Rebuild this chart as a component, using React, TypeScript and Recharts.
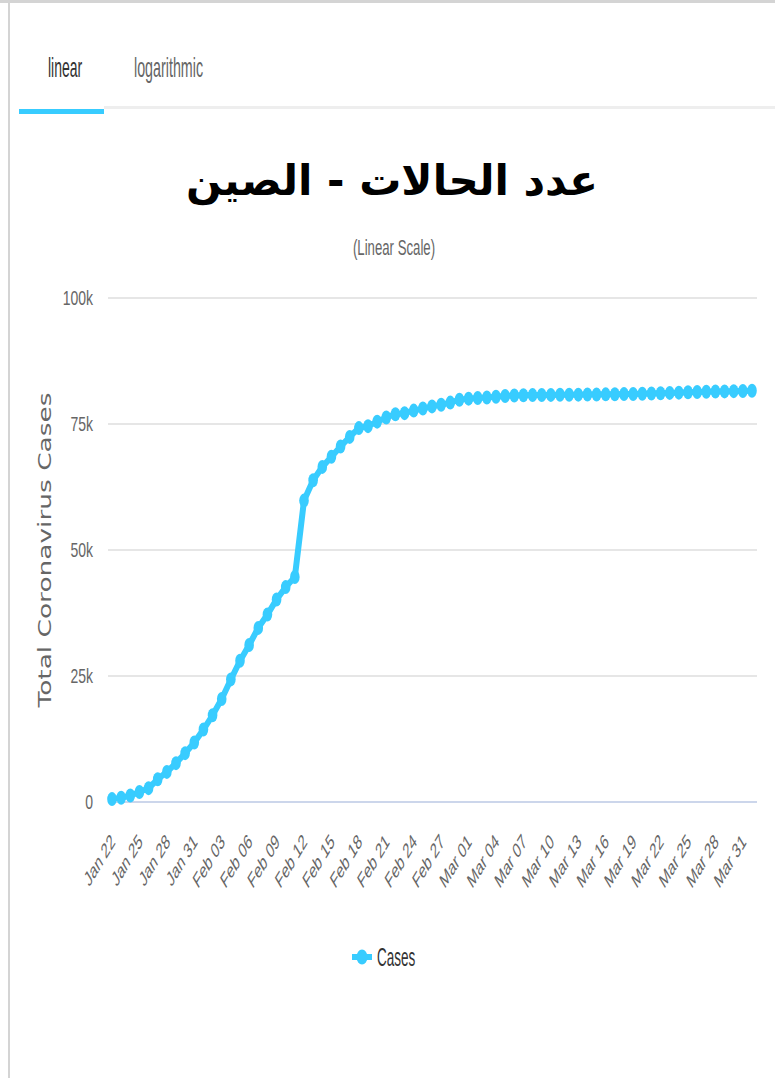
import React from "react";
import { LineChart, Line, XAxis, YAxis, CartesianGrid, Legend } from "recharts";

// daily dates, Jan 22 -> Apr 01
const dates = [
  "Jan 22", "Jan 23", "Jan 24", "Jan 25", "Jan 26", "Jan 27", "Jan 28", "Jan 29", "Jan 30", "Jan 31",
  "Feb 01", "Feb 02", "Feb 03", "Feb 04", "Feb 05", "Feb 06", "Feb 07", "Feb 08", "Feb 09", "Feb 10",
  "Feb 11", "Feb 12", "Feb 13", "Feb 14", "Feb 15", "Feb 16", "Feb 17", "Feb 18", "Feb 19", "Feb 20",
  "Feb 21", "Feb 22", "Feb 23", "Feb 24", "Feb 25", "Feb 26", "Feb 27", "Feb 28", "Feb 29", "Mar 01",
  "Mar 02", "Mar 03", "Mar 04", "Mar 05", "Mar 06", "Mar 07", "Mar 08", "Mar 09", "Mar 10", "Mar 11",
  "Mar 12", "Mar 13", "Mar 14", "Mar 15", "Mar 16", "Mar 17", "Mar 18", "Mar 19", "Mar 20", "Mar 21",
  "Mar 22", "Mar 23", "Mar 24", "Mar 25", "Mar 26", "Mar 27", "Mar 28", "Mar 29", "Mar 30", "Mar 31",
  "Apr 01",
];

const cases = [
  571, 830, 1287, 1975, 2744, 4515, 5974, 7711, 9692, 11791,
  14380, 17205, 20438, 24324, 28018, 31161, 34546, 37198, 40171, 42638,
  44653, 59804, 63851, 66492, 68500, 70548, 72436, 74185, 74576, 75465,
  76288, 76936, 77150, 77658, 78064, 78497, 78824, 79251, 79824, 80026,
  80151, 80270, 80409, 80552, 80651, 80695, 80735, 80754, 80778, 80793,
  80813, 80824, 80844, 80860, 80881, 80894, 80928, 80967, 81008, 81054,
  81093, 81171, 81218, 81285, 81340, 81394, 81439, 81470, 81518, 81554,
  81589,
];

const tickLabels = [
  "Jan 22", "Jan 25", "Jan 28", "Jan 31", "Feb 03", "Feb 06", "Feb 09", "Feb 12",
  "Feb 15", "Feb 18", "Feb 21", "Feb 24", "Feb 27", "Mar 01", "Mar 04", "Mar 07",
  "Mar 10", "Mar 13", "Mar 16", "Mar 19", "Mar 22", "Mar 25", "Mar 28", "Mar 31",
];

const yTicks = [0, 25000, 50000, 75000, 100000];

const chartData = dates.map((d, i) => ({ date: d, Cases: cases[i] }));

const BLUE = "#38ccff";
const FONT = "'Liberation Sans', Arial, sans-serif";

const XTick = ({ x, y, payload }: any) => (
  <g transform={`translate(${x + 4},${y + 41}) scale(0.6,1)`}>
    <text transform="rotate(-45)" textAnchor="end" fontSize={21} fontFamily={FONT} fill="#666">
      {payload.value}
    </text>
  </g>
);

const YTick = ({ x, y, payload }: any) => (
  <g transform={`translate(${x},${y}) scale(0.7,1)`}>
    <text textAnchor="end" dy="0.36em" fontSize={20} fontFamily={FONT} fill="#666">
      {payload.value === 0 ? "0" : `${payload.value / 1000}k`}
    </text>
  </g>
);

const YLabel = ({ viewBox }: any) => {
  const cy = viewBox.y + viewBox.height / 2;
  return (
    <text
      transform={`translate(44,${cy}) rotate(-90)`}
      textAnchor="middle"
      dominantBaseline="central"
      fontSize={18}
      fontFamily="'DejaVu Sans', sans-serif"
      fill="#666"
      textLength={315}
      lengthAdjust="spacingAndGlyphs"
    >
      Total Coronavirus Cases
    </text>
  );
};

const Dot = ({ cx, cy, index }: any) =>
  cx == null ? null : <ellipse key={index} cx={cx} cy={cy} rx={4.8} ry={7} fill={BLUE} />;

const LegendContent = () => (
  <div style={{ display: "flex", alignItems: "center", justifyContent: "center", width: 775, height: 26 }}>
    <svg width={20} height={16} style={{ marginLeft: -6 }}>
      <line x1={0} y1={8} x2={20} y2={8} stroke={BLUE} strokeWidth={6} />
      <ellipse cx={10} cy={8} rx={5.5} ry={7.5} fill={BLUE} />
    </svg>
    <span
      style={{
        display: "inline-block",
        marginLeft: 5,
        width: 40,
        fontSize: 25,
        fontFamily: FONT,
        color: "#333",
        transform: "scaleX(0.54)",
        transformOrigin: "left center",
        whiteSpace: "nowrap",
      }}
    >
      Cases
    </span>
  </div>
);

const squeeze = (s: number, origin = "left center"): React.CSSProperties => ({
  display: "inline-block",
  transform: `scaleX(${s})`,
  transformOrigin: origin,
  whiteSpace: "nowrap",
});

export default function App() {
  return (
    <div
      style={{
        position: "absolute",
        left: 0,
        top: 0,
        width: 775,
        height: 1078,
        background: "#fff",
        overflow: "hidden",
        fontFamily: FONT,
      }}
    >
      {/* frame */}
      <div style={{ position: "absolute", left: 0, top: 0, width: 775, height: 3, background: "#d4d4d4" }} />
      <div style={{ position: "absolute", left: 8, top: 0, width: 2, height: 1078, background: "#d4d4d4" }} />

      {/* tabs */}
      <div style={{ position: "absolute", left: 48, top: 52, height: 32, lineHeight: "32px", fontSize: 28, color: "#333" }}>
        <span style={squeeze(0.5)}>linear</span>
      </div>
      <div style={{ position: "absolute", left: 134, top: 52, height: 32, lineHeight: "32px", fontSize: 28, color: "#666" }}>
        <span style={squeeze(0.51)}>logarithmic</span>
      </div>
      <div style={{ position: "absolute", left: 104, top: 106, width: 671, height: 3, background: "#eeeeee" }} />
      <div style={{ position: "absolute", left: 19, top: 109, width: 85, height: 5, background: BLUE }} />

      {/* title */}
      <div
        style={{
          position: "absolute",
          left: 0,
          top: 156,
          width: 784,
          textAlign: "center",
          fontSize: 42,
          fontWeight: "bold",
          color: "#000",
          fontFamily: "'DejaVu Sans', sans-serif",
          direction: "rtl",
        }}
      >
        عدد الحالات - الصين
      </div>
      <div style={{ position: "absolute", left: 394, top: 234, lineHeight: "28px", fontSize: 22, color: "#666" }}>
        <span style={{ display: "inline-block", transform: "translateX(-50%) scaleX(0.6)", whiteSpace: "nowrap" }}>
          (Linear Scale)
        </span>
      </div>

      {/* chart */}
      <div style={{ position: "absolute", left: 0, top: 280 }}>
        <LineChart width={775} height={700} data={chartData} margin={{ top: 18, right: 18, left: 0, bottom: 78 }}>
          <CartesianGrid vertical={false} stroke="#e6e6e6" strokeWidth={2} />
          <XAxis
            dataKey="date"
            ticks={tickLabels}
            interval={0}
            tick={<XTick />}
            tickLine={false}
            tickSize={0}
            tickMargin={0}
            height={100}
            padding={{ left: 4, right: 5 }}
            axisLine={{ stroke: "#ccd6eb", strokeWidth: 2 }}
          />
          <YAxis
            domain={[0, 100000]}
            ticks={yTicks}
            width={108}
            tick={<YTick />}
            tickLine={false}
            tickSize={0}
            tickMargin={15}
            axisLine={false}
            label={<YLabel />}
          />
          <Legend
            layout="horizontal"
            verticalAlign="middle"
            align="center"
            content={<LegendContent />}
            wrapperStyle={{ top: 664, left: 0, width: 775 }}
          />
          <Line
            type="linear"
            dataKey="Cases"
            stroke={BLUE}
            strokeWidth={6}
            dot={<Dot />}
            activeDot={false}
            isAnimationActive={false}
          />
        </LineChart>
      </div>
    </div>
  );
}
